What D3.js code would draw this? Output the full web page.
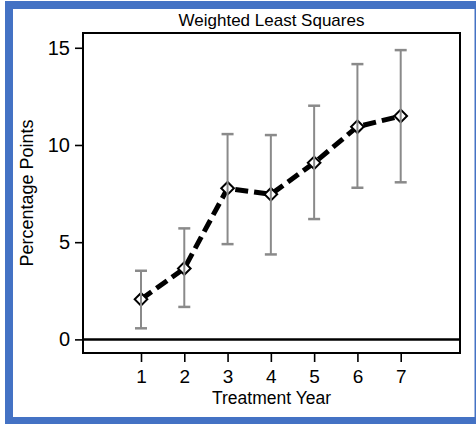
<!DOCTYPE html>
<html>
<head>
<meta charset="utf-8">
<script src="https://cdn.jsdelivr.net/npm/d3@7"></script>
<style>
  html, body { margin: 0; padding: 0; background: #fff; }
  svg { display: block; }
  text { font-family: "Liberation Sans", Arial, Helvetica, sans-serif; fill: #000; }
</style>
</head>
<body>
<svg id="chart" width="476" height="424"></svg>
<script>
// Treatment-year effects estimated by weighted least squares, with confidence intervals
const years = [1, 2, 3, 4, 5, 6, 7];
const estimates = [2.06, 3.65, 7.77, 7.46, 9.08, 10.94, 11.49];
const lowerBounds = [0.57, 1.67, 4.90, 4.37, 6.19, 7.80, 8.08];
const upperBounds = [3.53, 5.71, 10.56, 10.51, 12.02, 14.16, 14.88];
const yTicks = [0, 5, 10, 15];
const titleText = "Weighted Least Squares";
const xTitle = "Treatment Year";
const yTitle = "Percentage Points";

const svg = d3.select("#chart");
const W = 476, H = 424;

// framed panel
svg.append("rect").attr("x", 0).attr("y", 0).attr("width", W).attr("height", H).attr("fill", "#fff");
svg.append("rect").attr("x", 5).attr("y", 1).attr("width", W - 5).attr("height", H - 1).attr("fill", "#4472c4");
svg.append("rect").attr("x", 13).attr("y", 9).attr("width", 461.5).attr("height", 408).attr("fill", "#fff");

const plot = { left: 83, right: 460, top: 33, bottom: 353 };

const x = d3.scaleLinear().domain([-0.34, 8.37]).range([plot.left, plot.right]);
const y = d3.scaleLinear().domain([-0.7, 15.76]).range([plot.bottom, plot.top]);

// title
svg.append("text")
  .attr("x", (plot.left + plot.right) / 2)
  .attr("y", 26)
  .attr("text-anchor", "middle")
  .style("font-size", "17px")
  .text(titleText);

// axes
const yAxis = d3.axisLeft(y).tickValues(yTicks).tickSize(8).tickPadding(5).tickFormat(d3.format("d"));
const gy = svg.append("g").attr("transform", `translate(${plot.left},0)`).call(yAxis);
gy.select(".domain").remove();
gy.selectAll(".tick line").attr("stroke", "#000").attr("stroke-width", 1.6);
gy.selectAll(".tick text").style("font-size", "20px").attr("fill", "#000");

const xAxis = d3.axisBottom(x).tickValues(years).tickSize(9).tickPadding(8).tickFormat(d3.format("d"));
const gx = svg.append("g").attr("transform", `translate(0,${plot.bottom})`).call(xAxis);
gx.select(".domain").remove();
gx.selectAll(".tick line").attr("stroke", "#000").attr("stroke-width", 1.6);
gx.selectAll(".tick text").style("font-size", "19px").attr("fill", "#000");

// axis titles
svg.append("text")
  .attr("x", (plot.left + plot.right) / 2)
  .attr("y", 404)
  .attr("text-anchor", "middle")
  .style("font-size", "17.5px")
  .text(xTitle);

svg.append("text")
  .attr("transform", `translate(32.5,${(plot.top + plot.bottom) / 2}) rotate(-90)`)
  .attr("text-anchor", "middle")
  .style("font-size", "18px")
  .text(yTitle);

// plot box
svg.append("rect")
  .attr("x", plot.left).attr("y", plot.top)
  .attr("width", plot.right - plot.left).attr("height", plot.bottom - plot.top)
  .attr("fill", "none").attr("stroke", "#000").attr("stroke-width", 2);

// zero reference line
svg.append("line")
  .attr("x1", plot.left).attr("x2", plot.right)
  .attr("y1", y(0)).attr("y2", y(0))
  .attr("stroke", "#000").attr("stroke-width", 2.5);

const rows = years.map((yr, i) => ({ yr, est: estimates[i], lo: lowerBounds[i], hi: upperBounds[i] }));

// estimate path (dashed)
const line = d3.line().x(d => x(d.yr)).y(d => y(d.est));
svg.append("path")
  .datum(rows)
  .attr("d", line)
  .attr("fill", "none")
  .attr("stroke", "#000")
  .attr("stroke-width", 5)
  .attr("stroke-dasharray", "13,6");

// diamond markers
svg.selectAll(".marker")
  .data(rows)
  .join("path")
  .attr("class", "marker")
  .attr("transform", d => `translate(${x(d.yr)},${y(d.est)}) rotate(45)`)
  .attr("d", d3.symbol().type(d3.symbolSquare).size(80))
  .attr("fill", "#fff")
  .attr("stroke", "#000")
  .attr("stroke-width", 2);

// confidence intervals
const cap = 6;
const eb = svg.selectAll(".ci").data(rows).join("g").attr("class", "ci")
  .attr("stroke", "#8a8a8a").attr("stroke-width", 2);
eb.append("line").attr("x1", d => x(d.yr)).attr("x2", d => x(d.yr))
  .attr("y1", d => y(d.lo)).attr("y2", d => y(d.hi));
eb.append("line").attr("x1", d => x(d.yr) - cap).attr("x2", d => x(d.yr) + cap)
  .attr("y1", d => y(d.hi)).attr("y2", d => y(d.hi)).attr("stroke-width", 2.5);
eb.append("line").attr("x1", d => x(d.yr) - cap).attr("x2", d => x(d.yr) + cap)
  .attr("y1", d => y(d.lo)).attr("y2", d => y(d.lo)).attr("stroke-width", 2.5);
</script>
</body>
</html>
